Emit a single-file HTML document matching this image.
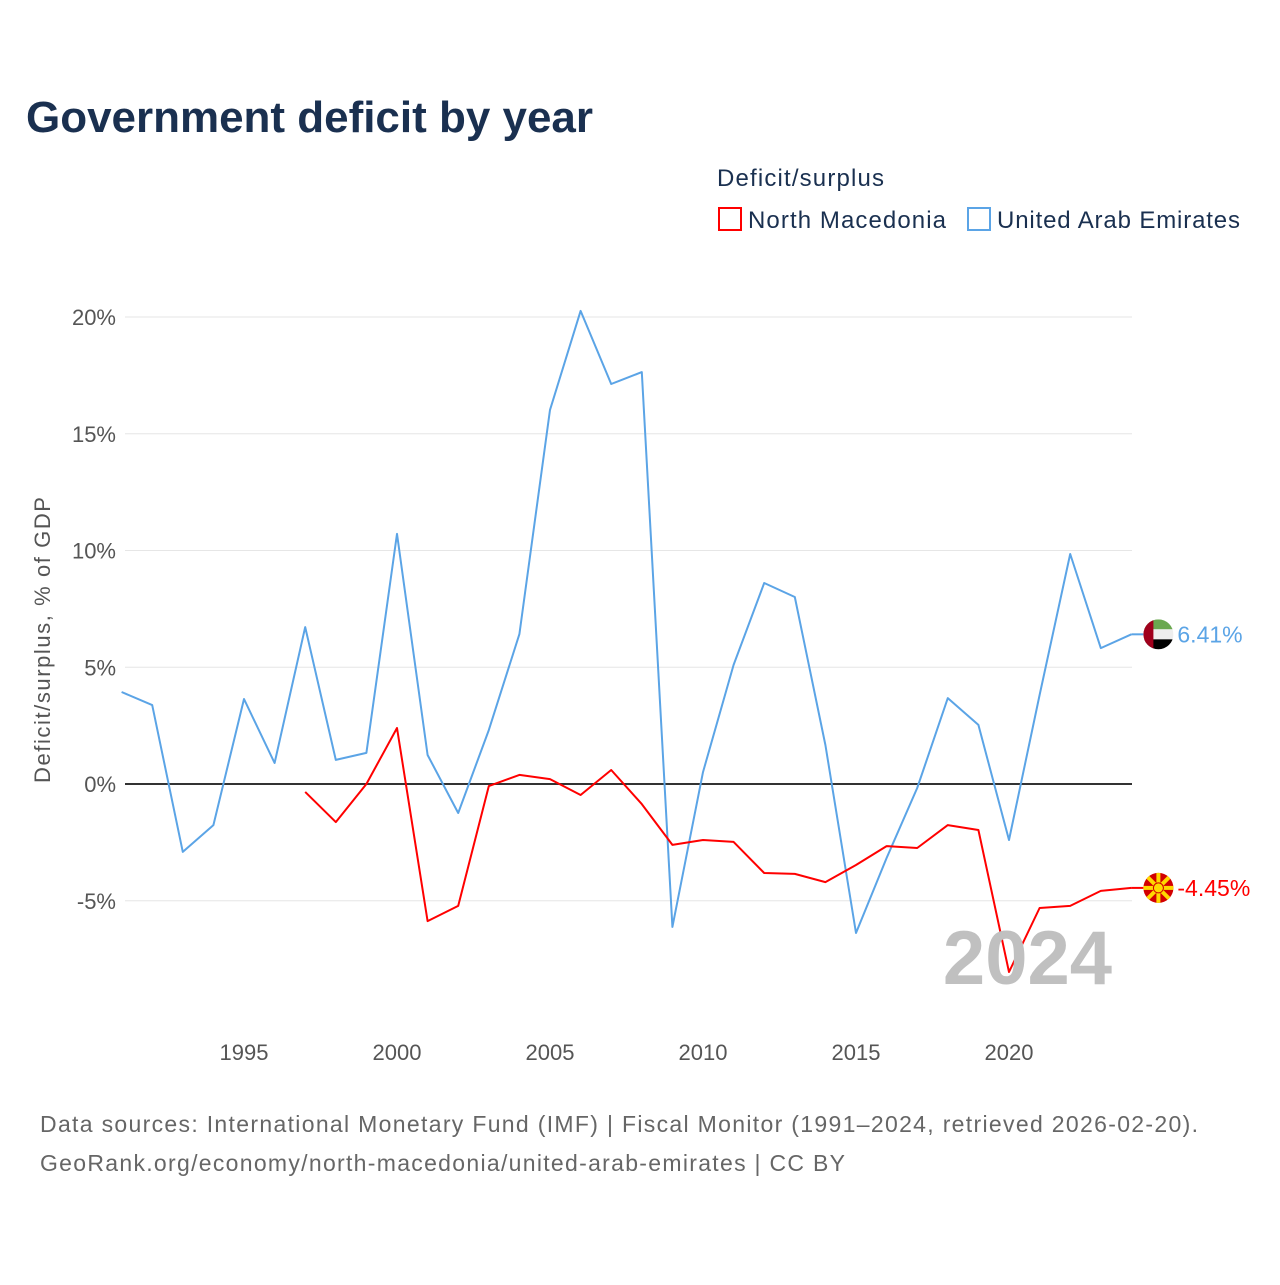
<!DOCTYPE html>
<html><head><meta charset="utf-8"><style>
body{margin:0;background:#fff;font-family:"Liberation Sans",sans-serif;}
svg text{font-family:"Liberation Sans",sans-serif;}
</style></head><body>
<svg id="c" width="1280" height="1280" xmlns="http://www.w3.org/2000/svg">
<rect width="1280" height="1280" fill="#fff"/>
<text x="26" y="132" font-size="44" font-weight="bold" fill="#1a3050" textLength="567">Government deficit by year</text>
<text x="717" y="186" font-size="24" fill="#1a3050" textLength="167">Deficit/surplus</text>
<g><rect x="719" y="208" width="22" height="22" fill="none" stroke="#f00" stroke-width="2"/><text x="748" y="228" font-size="24" fill="#1a3050" textLength="198">North Macedonia</text></g>
<g><rect x="968" y="208" width="22" height="22" fill="none" stroke="#5ba4e6" stroke-width="2"/><text x="997" y="228" font-size="24" fill="#1a3050" textLength="243">United Arab Emirates</text></g>
<text transform="translate(50,640) rotate(-90)" text-anchor="middle" font-size="22" fill="#555" textLength="286">Deficit/surplus, % of GDP</text>
<g id="grid"></g><g id="series"></g>
<text x="1112" y="984" text-anchor="end" font-size="76" font-weight="bold" fill="#c0c0c0">2024</text>
<text x="40" y="1132" font-size="23" fill="#666" textLength="1158">Data sources: International Monetary Fund (IMF) | Fiscal Monitor (1991–2024, retrieved 2026-02-20).</text>
<text x="40" y="1171" font-size="23" fill="#666" textLength="805">GeoRank.org/economy/north-macedonia/united-arab-emirates | CC BY</text>
</svg>
<script>
const years=[];for(let y=1991;y<=2024;y++)years.push(y);
const uae=[3.94,3.38,-2.91,-1.76,3.64,0.9,6.72,1.03,1.33,10.71,1.24,-1.24,2.31,6.42,16.02,20.26,17.13,17.64,-6.12,0.51,5.1,8.61,8.01,1.67,-6.38,-3.17,-0.17,3.68,2.53,-2.4,3.81,9.85,5.82,6.41];
const nmk=[null,null,null,null,null,null,-0.34,-1.63,0,2.4,-5.87,-5.22,-0.09,0.39,0.21,-0.47,0.6,-0.86,-2.61,-2.4,-2.48,-3.81,-3.85,-4.2,-3.47,-2.66,-2.74,-1.76,-1.97,-8.05,-5.31,-5.22,-4.58,-4.45];
const yTicks=[-5,0,5,10,15,20];
const xTicks=[1995,2000,2005,2010,2015,2020];
const NS="http://www.w3.org/2000/svg";
const X=y=>121.6+(y-1991)*30.6, Y=v=>784-v*23.35;
function mk(t,a,p){const e=document.createElementNS(NS,t);for(const k in a)e.setAttribute(k,a[k]);p.appendChild(e);return e;}
const g=document.getElementById('grid'),s=document.getElementById('series');
yTicks.forEach(v=>{
 const l=mk('line',{x1:125,x2:1132,y1:Y(v),y2:Y(v),stroke:v===0?'#333':'#e6e6e6','stroke-width':v===0?2:1},g);
 
 
 const t=mk('text',{x:116,y:Y(v)+8,'text-anchor':'end','font-size':22,fill:'#555'},g);t.textContent=v+'%';
 
 
});
xTicks.forEach(v=>{const t=mk('text',{x:X(v),y:1060,'text-anchor':'middle','font-size':22,fill:'#555'},g);t.textContent=v;
 
 });
function line(d,c,n){let p='';d.forEach((v,i)=>{if(v===null)return;p+=(p?'L':'M')+X(years[i]).toFixed(1)+','+Y(v).toFixed(1);});
 const e=mk('path',{d:p,fill:'none',stroke:c,'stroke-width':2,'stroke-linejoin':'round'},s);
 
 }
line(uae,'#5ba4e6','uae-line');line(nmk,'#f00','north-macedonia-line');
function end(d,c,n,flag){const v=d[d.length-1],x=X(2024),y=Y(v);
 mk('line',{x1:x,x2:x+12,y1:y,y2:y,stroke:c,'stroke-width':2},s);
 const gg=mk('g',{},s);
 
 
 flag(gg,x+27,y);
 const t=mk('text',{x:x+46,y:y+8,'font-size':23,fill:c},gg);t.textContent=v.toFixed(2)+'%';}
end(uae,'#5ba4e6','uae-end-label',(p,cx,cy)=>{
 mk('clipPath',{id:'cu'},p).appendChild(document.createElementNS(NS,'circle'));
 const c=p.querySelector('#cu circle');c.setAttribute('cx',cx);c.setAttribute('cy',cy);c.setAttribute('r',15);
 const q=mk('g',{'clip-path':'url(#cu)'},p);
 mk('rect',{x:cx-15,y:cy-15,width:30,height:10,fill:'#6aa84f'},q);
 mk('rect',{x:cx-15,y:cy-5,width:30,height:10,fill:'#eee'},q);
 mk('rect',{x:cx-15,y:cy+5,width:30,height:10,fill:'#000'},q);
 mk('rect',{x:cx-15,y:cy-15,width:10,height:30,fill:'#a0001c'},q);});
end(nmk,'#f00','north-macedonia-end-label',(p,cx,cy)=>{
 mk('circle',{cx,cy,r:15,fill:'#d20000'},p);
 for(let i=0;i<8;i++){const a=i*Math.PI/4;mk('line',{x1:cx,y1:cy,x2:cx+15*Math.cos(a),y2:cy+15*Math.sin(a),stroke:'#ffd800','stroke-width':4},p);}
 mk('circle',{cx,cy,r:5,fill:'#ffd800',stroke:'#d20000','stroke-width':1},p);});
</script>
</body></html>
